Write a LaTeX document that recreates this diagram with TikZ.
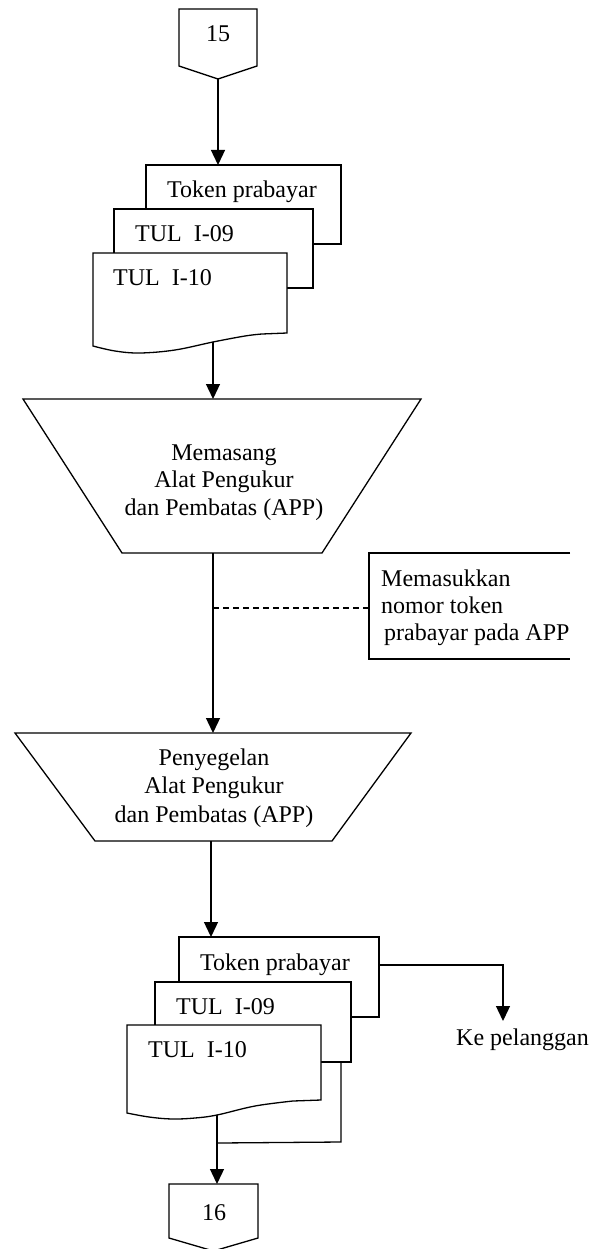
\documentclass[tikz,border=0pt]{standalone}
\usepackage{fontspec}
\setmainfont{Liberation Serif}
\usetikzlibrary{arrows.meta}
\tikzset{
  shapeline/.style={draw=black, line width=1.3pt, fill=white, line join=miter},
  flow/.style={draw=black, line width=1.3pt, -{Triangle[length=15pt,width=14pt]}},
  plain/.style={draw=black, line width=1.3pt},
  dashline/.style={draw=black, line width=1.1pt, dash pattern=on 6pt off 4pt},
  lbl/.style={inner sep=0pt, font=\fontsize{24}{28}\selectfont},
}
\begin{document}
\begin{tikzpicture}[x=1pt, y=-1pt]
\useasboundingbox (0,0) rectangle (593,1249);

% ---------- off-page connector 15 ----------
\draw[shapeline] (179,9) -- (257,9) -- (257,66) -- (218,79) -- (179,66) -- cycle;
\coordinate (c15out) at (218,79);
\node[lbl, anchor=base] (n15) at (218,42) {15};

% ---------- first document stack ----------
\draw[shapeline] (146,165) rectangle (341,244);
\coordinate (tokAin) at (218,165);
\node[lbl, anchor=base west] (tokA) at (167,198) {Token prabayar};
\draw[shapeline] (114,209) rectangle (313,288);
\node[lbl, anchor=base west] (tulAnine) at (135,242) {TUL\ \ I-09};
\draw[shapeline] (93,253) -- (93,346)
  -- plot[smooth, tension=0.6] coordinates {(93,346) (115,351) (140,353) (175,350) (213,342) (245,336) (262,334)}
  -- (287,333) -- (287,253) -- cycle;
\coordinate (docAout) at (213,342);
\node[lbl, anchor=base west] (tulAten) at (113,285) {TUL\ \ I-10};

% ---------- manual operation: installing the meter ----------
\draw[shapeline] (23,399) -- (421,399) -- (322,553) -- (122,553) -- cycle;
\coordinate (trapAin) at (213,399);
\coordinate (trapAout) at (213,553);
\node[lbl, anchor=base] (pasangA) at (224,460) {Memasang};
\node[lbl, anchor=base] (pasangB) at (224,487) {Alat Pengukur};
\node[lbl, anchor=base] (pasangC) at (224,515) {dan Pembatas (APP)};

% ---------- annotation ----------
\draw[plain] (570,553) -- (369,553) -- (369,659) -- (570,659);
\coordinate (noteL) at (369,608);
\coordinate (noteTap) at (213,608);
\node[lbl, anchor=base west] (noteA) at (381,586) {Memasukkan};
\node[lbl, anchor=base west] (noteB) at (381,613) {nomor token};
\node[lbl, anchor=base west] (noteC) at (384,640) {prabayar pada APP};

% ---------- manual operation: sealing the meter ----------
\draw[shapeline] (15,733) -- (411,733) -- (332,841) -- (95,841) -- cycle;
\coordinate (trapBin) at (213,733);
\coordinate (trapBout) at (211,841);
\node[lbl, anchor=base] (segelA) at (214,765) {Penyegelan};
\node[lbl, anchor=base] (segelB) at (214,793) {Alat Pengukur};
\node[lbl, anchor=base] (segelC) at (214,822) {dan Pembatas (APP)};

% ---------- second document stack ----------
\draw[shapeline] (179,937) rectangle (379,1017);
\coordinate (tokBin) at (211,937);
\coordinate (tokBout) at (379,965);
\node[lbl, anchor=base west] (tokB) at (200,970) {Token prabayar};
\draw[shapeline] (155,982) rectangle (351,1062);
\coordinate (tulBnineout) at (341,1062);
\node[lbl, anchor=base west] (tulBnine) at (176,1014) {TUL\ \ I-09};
\draw[shapeline] (127,1025) -- (127,1113)
  -- plot[smooth, tension=0.6] coordinates {(127,1113) (149,1117) (172,1119) (195,1118) (217,1115) (255,1106) (293,1101)}
  -- (321,1100) -- (321,1025) -- cycle;
\coordinate (docBout) at (217,1115);
\node[lbl, anchor=base west] (tulBten) at (148,1057) {TUL\ \ I-10};

% customer branch
\coordinate (custTurn) at (503,965);
\coordinate (custEnd) at (503,1021);
\node[lbl, anchor=base west] (cust) at (456,1045) {Ke pelanggan};

% ---------- off-page connector 16 ----------
\draw[shapeline] (169,1184) -- (258,1184) -- (258,1238) -- (213.5,1251) -- (169,1238) -- cycle;
\coordinate (c16in) at (217,1184);
\coordinate (mergePt) at (218,1143);
\node[lbl, anchor=base] (n16) at (214,1220) {16};

% ---------- connectors ----------
\draw[flow] (c15out) -- (tokAin);
\draw[flow] (docAout) -- (trapAin);
\draw[flow] (trapAout) -- (trapBin);
\draw[dashline] (noteTap) -- (noteL);
\draw[flow] (trapBout) -- (tokBin);
\draw[flow] (tokBout) -- (custTurn) -- (custEnd);
\draw[plain] (tulBnineout) -- (341,1142) -- (mergePt);
\draw[flow] (docBout) -- (c16in);
\end{tikzpicture}
\end{document}
